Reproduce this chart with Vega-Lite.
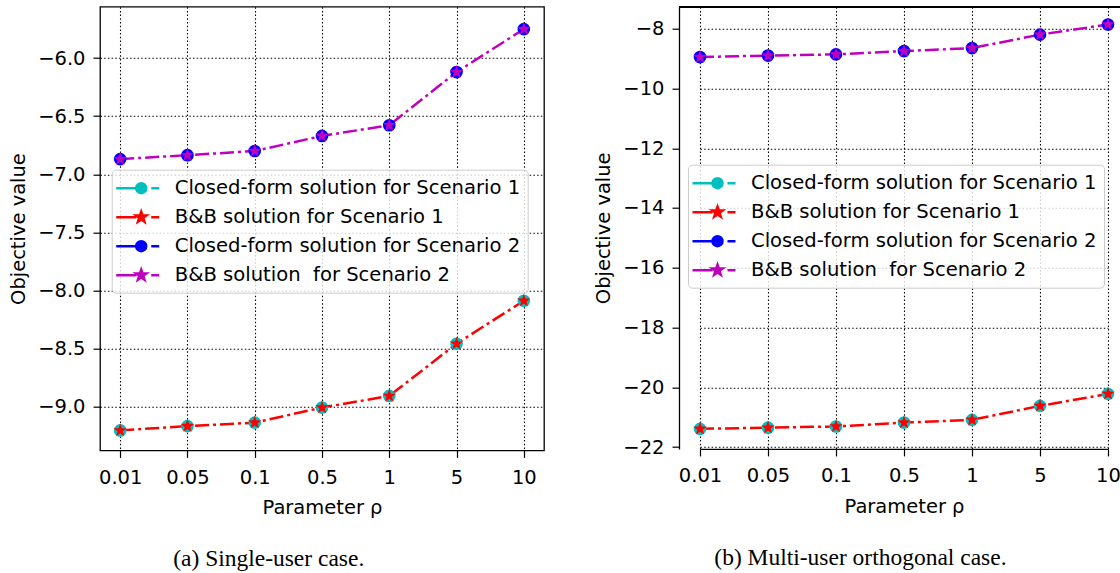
{
  "$schema": "https://vega.github.io/schema/vega-lite/v6.json",
  "background": "white",
  "padding": {"left": 7, "top": 5.7, "right": 0, "bottom": 0},
  "spacing": 39,
  "config": {
    "font": "DejaVu Sans",
    "view": {"stroke": "#000", "strokeWidth": 1.3},
    "axis": {
      "labelFont": "DejaVu Sans", "labelFontSize": 19.5, "labelColor": "#000",
      "titleFont": "DejaVu Sans", "titleFontSize": 19.5, "titleFontWeight": "normal", "titleColor": "#000",
      "ticks": true, "tickColor": "#000", "tickSize": 7, "tickWidth": 1.2,
      "grid": true, "gridColor": "#000", "gridDash": [1.5, 2.2], "gridWidth": 1.1, "gridOpacity": 1,
      "domain": false, "labelPadding": 8
    },
    "axisX": {"labelPadding": 11, "titlePadding": 12, "labelAngle": 0},
    "legend": {
      "labelFont": "DejaVu Sans", "labelFontSize": 19.6, "labelColor": "#000",
      "symbolSize": 400, "symbolStrokeWidth": 2.5, "symbolOpacity": 1, "padding": 7, "rowPadding": 7,
      "labelOffset": 33, "strokeColor": "#cccccc", "fillColor": "rgba(255,255,255,0.8)", "cornerRadius": 4, "labelLimit": 1000
    },
    "title": {"font": "Liberation Serif", "fontSize": 23.5, "fontWeight": "normal", "color": "#000", "orient": "bottom", "frame": "bounds", "anchor": "middle", "offset": 30}
  },
  "resolve": {
    "scale": {"fill": "independent", "stroke": "independent", "shape": "independent"},
    "legend": {"fill": "independent", "stroke": "independent", "shape": "independent"}
  },
  "hconcat": [
    {
      "width": 444, "height": 443.7,
      "title": {"text": "(a) Single-user case.", "dx": -12},
      "data": {"values": [
        {"rho": "0.01", "series": "Closed-form solution for Scenario 1", "value": -9.207},
        {"rho": "0.05", "series": "Closed-form solution for Scenario 1", "value": -9.17},
        {"rho": "0.1", "series": "Closed-form solution for Scenario 1", "value": -9.14},
        {"rho": "0.5", "series": "Closed-form solution for Scenario 1", "value": -9.01},
        {"rho": "1", "series": "Closed-form solution for Scenario 1", "value": -8.91},
        {"rho": "5", "series": "Closed-form solution for Scenario 1", "value": -8.46},
        {"rho": "10", "series": "Closed-form solution for Scenario 1", "value": -8.09},
        {"rho": "0.01", "series": "B&B solution for Scenario 1", "value": -9.207},
        {"rho": "0.05", "series": "B&B solution for Scenario 1", "value": -9.17},
        {"rho": "0.1", "series": "B&B solution for Scenario 1", "value": -9.14},
        {"rho": "0.5", "series": "B&B solution for Scenario 1", "value": -9.01},
        {"rho": "1", "series": "B&B solution for Scenario 1", "value": -8.91},
        {"rho": "5", "series": "B&B solution for Scenario 1", "value": -8.46},
        {"rho": "10", "series": "B&B solution for Scenario 1", "value": -8.09},
        {"rho": "0.01", "series": "Closed-form solution for Scenario 2", "value": -6.87},
        {"rho": "0.05", "series": "Closed-form solution for Scenario 2", "value": -6.836},
        {"rho": "0.1", "series": "Closed-form solution for Scenario 2", "value": -6.80},
        {"rho": "0.5", "series": "Closed-form solution for Scenario 2", "value": -6.67},
        {"rho": "1", "series": "Closed-form solution for Scenario 2", "value": -6.578},
        {"rho": "5", "series": "Closed-form solution for Scenario 2", "value": -6.12},
        {"rho": "10", "series": "Closed-form solution for Scenario 2", "value": -5.75},
        {"rho": "0.01", "series": "B&B solution\u00a0 for Scenario 2", "value": -6.87},
        {"rho": "0.05", "series": "B&B solution\u00a0 for Scenario 2", "value": -6.836},
        {"rho": "0.1", "series": "B&B solution\u00a0 for Scenario 2", "value": -6.80},
        {"rho": "0.5", "series": "B&B solution\u00a0 for Scenario 2", "value": -6.67},
        {"rho": "1", "series": "B&B solution\u00a0 for Scenario 2", "value": -6.578},
        {"rho": "5", "series": "B&B solution\u00a0 for Scenario 2", "value": -6.12},
        {"rho": "10", "series": "B&B solution\u00a0 for Scenario 2", "value": -5.75}
      ]},
      "encoding": {
        "x": {"field": "rho", "type": "ordinal", "scale": {"type": "point", "padding": 0.3, "domain": ["0.01", "0.05", "0.1", "0.5", "1", "5", "10"]}, "axis": {"title": "Parameter ρ"}},
        "y": {"field": "value", "type": "quantitative", "scale": {"domain": [-9.379, -5.557], "nice": false, "zero": false}, "axis": {"title": "Objective value", "values": [-9, -8.5, -8, -7.5, -7, -6.5, -6], "format": ".1f", "titlePadding": 9}}
      },
      "layer": [
        {"transform": [{"filter": {"field": "series", "equal": "B&B solution for Scenario 1"}}], "mark": {"type": "line", "color": "#FF0000", "strokeWidth": 2.5, "strokeDash": [14, 4, 3, 4]}},
        {"transform": [{"filter": {"field": "series", "equal": "B&B solution\u00a0 for Scenario 2"}}], "mark": {"type": "line", "color": "#BF00BF", "strokeWidth": 2.5, "strokeDash": [14, 4, 3, 4]}},
        {"transform": [{"filter": {"field": "series", "equal": "Closed-form solution for Scenario 1"}}], "mark": {"type": "point", "filled": true, "shape": "circle", "size": 160, "opacity": 1, "color": "#00BFBF"}},
        {"transform": [{"filter": {"field": "series", "equal": "B&B solution for Scenario 1"}}], "mark": {"type": "point", "filled": true, "shape": "M0,-1L0.235,-0.324L0.951,-0.309L0.38,0.124L0.588,0.809L0,0.4L-0.588,0.809L-0.38,0.124L-0.951,-0.309L-0.235,-0.324Z", "size": 200, "opacity": 1, "color": "#FF0000"}},
        {"transform": [{"filter": {"field": "series", "equal": "Closed-form solution for Scenario 2"}}], "mark": {"type": "point", "filled": true, "shape": "circle", "size": 160, "opacity": 1, "color": "#0000FF"}},
        {"transform": [{"filter": {"field": "series", "equal": "B&B solution\u00a0 for Scenario 2"}}], "mark": {"type": "point", "filled": true, "shape": "M0,-1L0.235,-0.324L0.951,-0.309L0.38,0.124L0.588,0.809L0,0.4L-0.588,0.809L-0.38,0.124L-0.951,-0.309L-0.235,-0.324Z", "size": 200, "opacity": 1, "color": "#BF00BF"}},
        {
          "mark": {"type": "point", "filled": true, "opacity": 0, "size": 400, "strokeWidth": 2.5},
          "encoding": {
            "fill": {"field": "series", "type": "nominal", "scale": {"domain": ["Closed-form solution for Scenario 1", "B&B solution for Scenario 1", "Closed-form solution for Scenario 2", "B&B solution\u00a0 for Scenario 2"], "range": ["#00BFBF", "#FF0000", "#0000FF", "#BF00BF"]}, "legend": {"title": null, "orient": "none", "legendX": 11.7, "legendY": 163, "symbolOpacity": 1}},
            "stroke": {"field": "series", "type": "nominal", "scale": {"domain": ["Closed-form solution for Scenario 1", "B&B solution for Scenario 1", "Closed-form solution for Scenario 2", "B&B solution\u00a0 for Scenario 2"], "range": ["#00BFBF", "#FF0000", "#0000FF", "#BF00BF"]}, "legend": {"title": null, "orient": "none", "legendX": 11.7, "legendY": 163, "symbolOpacity": 1}},
            "shape": {"field": "series", "type": "nominal", "scale": {"domain": ["Closed-form solution for Scenario 1", "B&B solution for Scenario 1", "Closed-form solution for Scenario 2", "B&B solution\u00a0 for Scenario 2"], "range": [
              "M-1.4,0L0.6,0M2.1,0L2.9,0M1.6,0A0.5,0.5,0,1,1,0.6,0A0.5,0.5,0,1,1,1.6,0Z",
              "M-1.4,0L0.6,0M2.1,0L2.9,0M1.1,-0.55L1.229,-0.178L1.623,-0.17L1.309,0.068L1.423,0.445L1.1,0.22L0.777,0.445L0.891,0.068L0.577,-0.17L0.971,-0.178Z",
              "M-1.4,0L0.6,0M2.1,0L2.9,0M1.6,0A0.5,0.5,0,1,1,0.6,0A0.5,0.5,0,1,1,1.6,0Z",
              "M-1.4,0L0.6,0M2.1,0L2.9,0M1.1,-0.55L1.229,-0.178L1.623,-0.17L1.309,0.068L1.423,0.445L1.1,0.22L0.777,0.445L0.891,0.068L0.577,-0.17L0.971,-0.178Z"
            ]}, "legend": {"title": null, "orient": "none", "legendX": 11.7, "legendY": 163, "symbolOpacity": 1}}
          }
        }
      ]
    },
    {
      "width": 441, "height": 442.2,
      "view": {"stroke": null},
      "title": {"text": "(b) Multi-user orthogonal case.", "dx": -5},
      "data": {"values": [
        {"rho": "0.01", "series": "Closed-form solution for Scenario 1", "value": -21.39},
        {"rho": "0.05", "series": "Closed-form solution for Scenario 1", "value": -21.35},
        {"rho": "0.1", "series": "Closed-form solution for Scenario 1", "value": -21.31},
        {"rho": "0.5", "series": "Closed-form solution for Scenario 1", "value": -21.18},
        {"rho": "1", "series": "Closed-form solution for Scenario 1", "value": -21.09},
        {"rho": "5", "series": "Closed-form solution for Scenario 1", "value": -20.62},
        {"rho": "10", "series": "Closed-form solution for Scenario 1", "value": -20.22},
        {"rho": "0.01", "series": "B&B solution for Scenario 1", "value": -21.39},
        {"rho": "0.05", "series": "B&B solution for Scenario 1", "value": -21.35},
        {"rho": "0.1", "series": "B&B solution for Scenario 1", "value": -21.31},
        {"rho": "0.5", "series": "B&B solution for Scenario 1", "value": -21.18},
        {"rho": "1", "series": "B&B solution for Scenario 1", "value": -21.09},
        {"rho": "5", "series": "B&B solution for Scenario 1", "value": -20.62},
        {"rho": "10", "series": "B&B solution for Scenario 1", "value": -20.22},
        {"rho": "0.01", "series": "Closed-form solution for Scenario 2", "value": -8.95},
        {"rho": "0.05", "series": "Closed-form solution for Scenario 2", "value": -8.90},
        {"rho": "0.1", "series": "Closed-form solution for Scenario 2", "value": -8.86},
        {"rho": "0.5", "series": "Closed-form solution for Scenario 2", "value": -8.75},
        {"rho": "1", "series": "Closed-form solution for Scenario 2", "value": -8.65},
        {"rho": "5", "series": "Closed-form solution for Scenario 2", "value": -8.20},
        {"rho": "10", "series": "Closed-form solution for Scenario 2", "value": -7.86},
        {"rho": "0.01", "series": "B&B solution\u00a0 for Scenario 2", "value": -8.95},
        {"rho": "0.05", "series": "B&B solution\u00a0 for Scenario 2", "value": -8.90},
        {"rho": "0.1", "series": "B&B solution\u00a0 for Scenario 2", "value": -8.86},
        {"rho": "0.5", "series": "B&B solution\u00a0 for Scenario 2", "value": -8.75},
        {"rho": "1", "series": "B&B solution\u00a0 for Scenario 2", "value": -8.65},
        {"rho": "5", "series": "B&B solution\u00a0 for Scenario 2", "value": -8.20},
        {"rho": "10", "series": "B&B solution\u00a0 for Scenario 2", "value": -7.86}
      ]},
      "layer": [
        {"transform": [{"filter": {"field": "series", "equal": "B&B solution for Scenario 1"}}], "mark": {"type": "line", "color": "#FF0000", "strokeWidth": 2.5, "strokeDash": [14, 4, 3, 4]},
          "encoding": {
            "x": {"field": "rho", "type": "ordinal", "scale": {"type": "point", "padding": 0, "range": [21, 429], "domain": ["0.01", "0.05", "0.1", "0.5", "1", "5", "10"]}, "axis": {"title": "Parameter ρ", "domain": true, "domainColor": "#000", "domainWidth": 1.3}},
            "y": {"field": "value", "type": "quantitative", "scale": {"domain": [-22.06, -7.265], "nice": false, "zero": false}, "axis": {"title": "Objective value", "values": [-22, -20, -18, -16, -14, -12, -10, -8], "format": "d", "titlePadding": 9, "domain": true, "domainColor": "#000", "domainWidth": 1.3}}
          }},
        {"transform": [{"filter": {"field": "series", "equal": "B&B solution\u00a0 for Scenario 2"}}], "mark": {"type": "line", "color": "#BF00BF", "strokeWidth": 2.5, "strokeDash": [14, 4, 3, 4]},
          "encoding": {"x": {"field": "rho", "type": "ordinal"}, "y": {"field": "value", "type": "quantitative"}}},
        {"transform": [{"filter": {"field": "series", "equal": "Closed-form solution for Scenario 1"}}], "mark": {"type": "point", "filled": true, "shape": "circle", "size": 160, "opacity": 1, "color": "#00BFBF"},
          "encoding": {"x": {"field": "rho", "type": "ordinal"}, "y": {"field": "value", "type": "quantitative"}}},
        {"transform": [{"filter": {"field": "series", "equal": "B&B solution for Scenario 1"}}], "mark": {"type": "point", "filled": true, "shape": "M0,-1L0.235,-0.324L0.951,-0.309L0.38,0.124L0.588,0.809L0,0.4L-0.588,0.809L-0.38,0.124L-0.951,-0.309L-0.235,-0.324Z", "size": 200, "opacity": 1, "color": "#FF0000"},
          "encoding": {"x": {"field": "rho", "type": "ordinal"}, "y": {"field": "value", "type": "quantitative"}}},
        {"transform": [{"filter": {"field": "series", "equal": "Closed-form solution for Scenario 2"}}], "mark": {"type": "point", "filled": true, "shape": "circle", "size": 160, "opacity": 1, "color": "#0000FF"},
          "encoding": {"x": {"field": "rho", "type": "ordinal"}, "y": {"field": "value", "type": "quantitative"}}},
        {"transform": [{"filter": {"field": "series", "equal": "B&B solution\u00a0 for Scenario 2"}}], "mark": {"type": "point", "filled": true, "shape": "M0,-1L0.235,-0.324L0.951,-0.309L0.38,0.124L0.588,0.809L0,0.4L-0.588,0.809L-0.38,0.124L-0.951,-0.309L-0.235,-0.324Z", "size": 200, "opacity": 1, "color": "#BF00BF"},
          "encoding": {"x": {"field": "rho", "type": "ordinal"}, "y": {"field": "value", "type": "quantitative"}}},
        {
          "mark": {"type": "point", "filled": true, "opacity": 0, "size": 400, "strokeWidth": 2.5},
          "encoding": {
            "x": {"field": "rho", "type": "ordinal"},
            "y": {"field": "value", "type": "quantitative"},
            "fill": {"field": "series", "type": "nominal", "scale": {"domain": ["Closed-form solution for Scenario 1", "B&B solution for Scenario 1", "Closed-form solution for Scenario 2", "B&B solution\u00a0 for Scenario 2"], "range": ["#00BFBF", "#FF0000", "#0000FF", "#BF00BF"]}, "legend": {"title": null, "orient": "none", "legendX": 9, "legendY": 158, "symbolOpacity": 1}},
            "stroke": {"field": "series", "type": "nominal", "scale": {"domain": ["Closed-form solution for Scenario 1", "B&B solution for Scenario 1", "Closed-form solution for Scenario 2", "B&B solution\u00a0 for Scenario 2"], "range": ["#00BFBF", "#FF0000", "#0000FF", "#BF00BF"]}, "legend": {"title": null, "orient": "none", "legendX": 9, "legendY": 158, "symbolOpacity": 1}},
            "shape": {"field": "series", "type": "nominal", "scale": {"domain": ["Closed-form solution for Scenario 1", "B&B solution for Scenario 1", "Closed-form solution for Scenario 2", "B&B solution\u00a0 for Scenario 2"], "range": [
              "M-1.4,0L0.6,0M2.1,0L2.9,0M1.6,0A0.5,0.5,0,1,1,0.6,0A0.5,0.5,0,1,1,1.6,0Z",
              "M-1.4,0L0.6,0M2.1,0L2.9,0M1.1,-0.55L1.229,-0.178L1.623,-0.17L1.309,0.068L1.423,0.445L1.1,0.22L0.777,0.445L0.891,0.068L0.577,-0.17L0.971,-0.178Z",
              "M-1.4,0L0.6,0M2.1,0L2.9,0M1.6,0A0.5,0.5,0,1,1,0.6,0A0.5,0.5,0,1,1,1.6,0Z",
              "M-1.4,0L0.6,0M2.1,0L2.9,0M1.1,-0.55L1.229,-0.178L1.623,-0.17L1.309,0.068L1.423,0.445L1.1,0.22L0.777,0.445L0.891,0.068L0.577,-0.17L0.971,-0.178Z"
            ]}, "legend": {"title": null, "orient": "none", "legendX": 9, "legendY": 158, "symbolOpacity": 1}}
          }
        },
        {
          "mark": {"type": "rule", "color": "#000", "strokeWidth": 1.3},
          "encoding": {"y": {"datum": -7.265}}
        }
      ]
    }
  ]
}
